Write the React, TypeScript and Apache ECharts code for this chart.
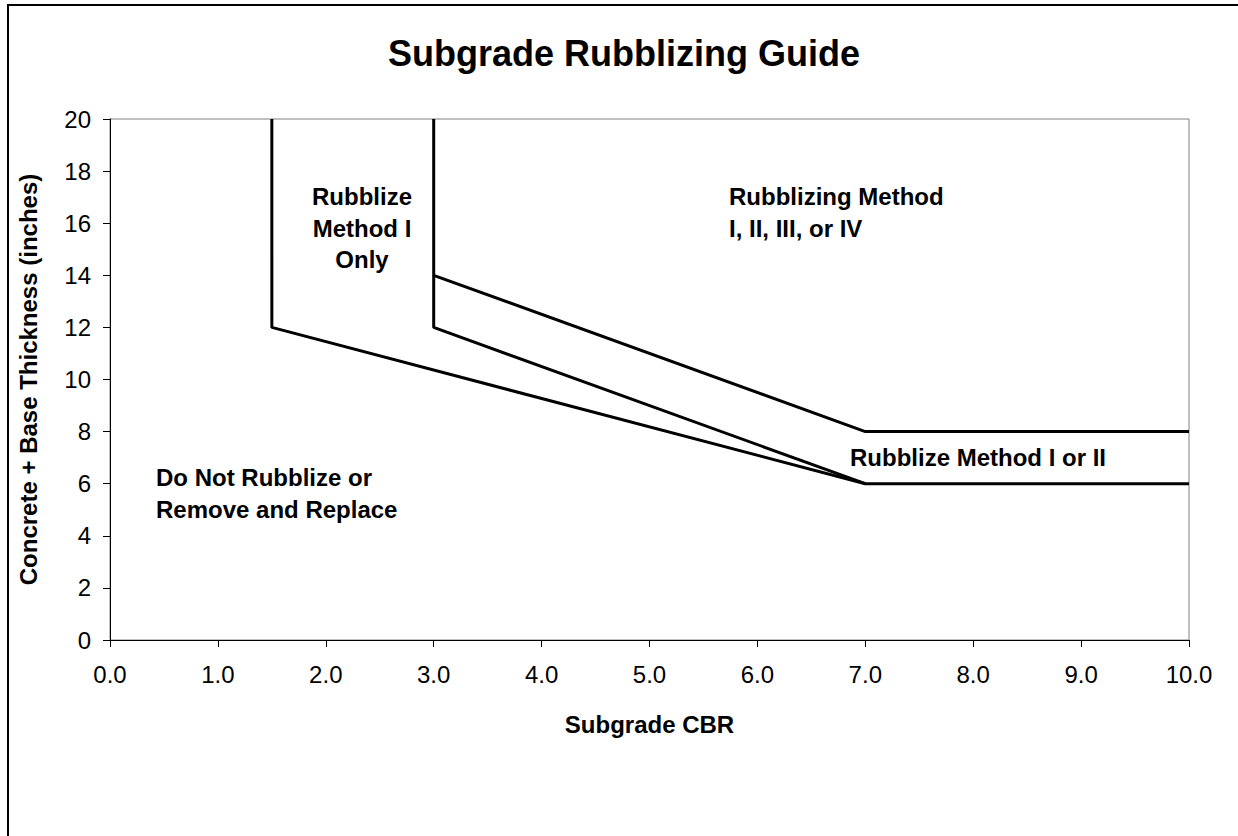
import React, { useEffect, useRef } from "react";
import * as echarts from "echarts";

const lineLower: [number, number][] = [[1.5, 20], [1.5, 12], [7, 6], [10, 6]];
const lineUpper: [number, number][] = [[3, 20], [3, 14], [7, 8], [10, 8]];
const lineMiddle: [number, number][] = [[3, 14], [3, 12], [7, 6]];

const titleText = "Subgrade Rubblizing Guide";
const xTitle = "Subgrade CBR";
const yTitle = "Concrete + Base Thickness (inches)";
const regionLabels = {
  methodIOnly: "Rubblize\nMethod I\nOnly",
  anyMethod: "Rubblizing Method\nI, II, III, or IV",
  methodIorII: "Rubblize Method I or II",
  doNot: "Do Not Rubblize or\nRemove and Replace",
};

const FONT = "'Liberation Sans', Arial, sans-serif";

export default function App() {
  const ref = useRef<HTMLDivElement>(null);
  useEffect(() => {
    if (!ref.current) return;
    const chart = echarts.init(ref.current, null, { renderer: "svg" });
    const mkLine = (name: string, data: [number, number][]) => ({
      name,
      type: "line",
      data,
      showSymbol: false,
      symbol: "none",
      lineStyle: { color: "#000", width: 3 },
      silent: true,
    });
    const txt = (x: number, y: number, text: string, align: string = "left") => ({
      type: "text",
      x,
      y,
      style: {
        text,
        fontSize: 24,
        fontWeight: "bold",
        fontFamily: FONT,
        fill: "#000",
        align,
        verticalAlign: "top",
        lineHeight: 31.5,
      },
      z: 10,
    });
    chart.setOption({
      animation: false,
      backgroundColor: "#fff",
      textStyle: { fontFamily: FONT },
      grid: {
        left: 110,
        top: 119,
        right: 49,
        bottom: 196,
        show: true,
        borderColor: "#808080",
        borderWidth: 1,
        containLabel: false,
      },
      xAxis: {
        type: "value",
        min: 0,
        max: 10,
        interval: 1,
        axisLine: { show: true, lineStyle: { color: "#000", width: 1 } },
        axisTick: { show: true, inside: false, length: 7, lineStyle: { color: "#000" } },
        splitLine: { show: false },
        axisLabel: {
          formatter: (v: number) => v.toFixed(1),
          color: "#000",
          fontSize: 24,
          fontFamily: FONT,
          margin: 22,
        },
        name: xTitle,
        nameLocation: "middle",
        nameGap: 72,
        nameTextStyle: { fontSize: 24, fontWeight: "bold", color: "#000", fontFamily: FONT },
      },
      yAxis: {
        type: "value",
        min: 0,
        max: 20,
        interval: 2,
        axisLine: { show: true, lineStyle: { color: "#000", width: 1 } },
        axisTick: { show: true, inside: false, length: 7, lineStyle: { color: "#000" } },
        splitLine: { show: false },
        axisLabel: {
          color: "#000",
          fontSize: 24,
          fontFamily: FONT,
          margin: 19,
        },
        name: yTitle,
        nameLocation: "middle",
        nameGap: 70,
        nameTextStyle: { fontSize: 24, fontWeight: "bold", color: "#000", fontFamily: FONT },
      },
      series: [
        mkLine("lower", lineLower),
        mkLine("upper", lineUpper),
        mkLine("middle", lineMiddle),
      ],
      graphic: [
        {
          type: "rect",
          shape: { x: 8, y: 5, width: 1250, height: 850 },
          style: { fill: "none", stroke: "#000", lineWidth: 2 },
          silent: true,
        },
        {
          type: "text",
          x: 624,
          y: 53,
          style: {
            text: titleText,
            fontSize: 36,
            fontWeight: "bold",
            fontFamily: FONT,
            fill: "#000",
            align: "center",
            verticalAlign: "middle",
          },
        },
        txt(362, 181, regionLabels.methodIOnly, "center"),
        txt(729, 181, regionLabels.anyMethod),
        txt(850, 442, regionLabels.methodIorII),
        txt(156, 462, regionLabels.doNot),
      ],
    });
    return () => chart.dispose();
  }, []);
  return (
    <div
      ref={ref}
      style={{ position: "absolute", left: 0, top: 0, width: 1238, height: 836 }}
    />
  );
}
